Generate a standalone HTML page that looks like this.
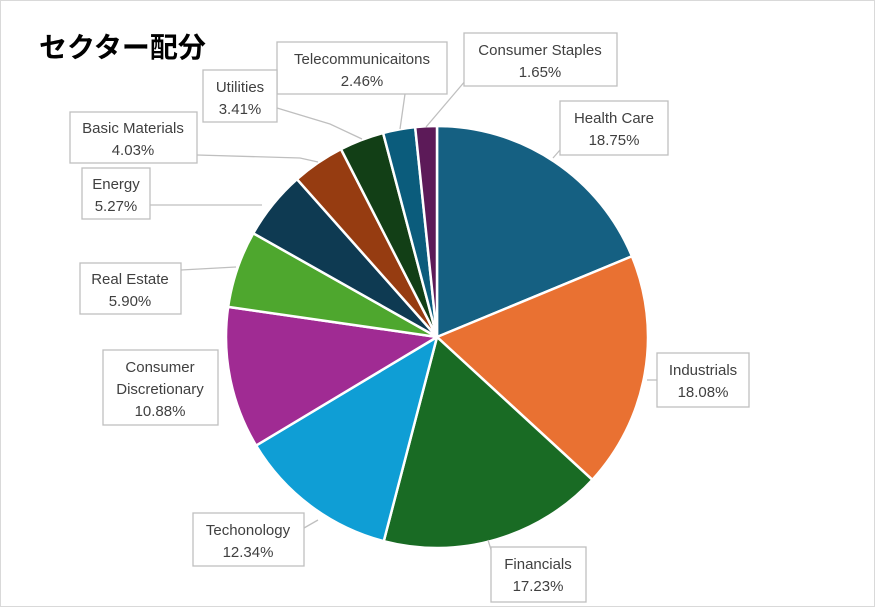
<!DOCTYPE html>
<html><head><meta charset="utf-8"><style>
html,body{margin:0;padding:0;background:#fff;}
svg{display:block;}
text{font-family:"Liberation Sans","Noto Sans CJK JP",sans-serif;fill:#404040;font-size:15px;}
</style></head><body>
<svg id="s" width="875" height="607" viewBox="0 0 875 607" xmlns="http://www.w3.org/2000/svg">
<rect x="0.5" y="0.5" width="874" height="606" fill="#fff" stroke="#d9d9d9"/>
<text x="39" y="57" style="font-size:28px;font-weight:bold;fill:#000">セクター配分</text>
<g id="pie"></g>
<g stroke="#bfbfbf" stroke-width="1.3" fill="none">
<polyline points="466,80 426,127"/>
<polyline points="405,94 400,129"/>
<polyline points="277,108 330,124 362,139"/>
<polyline points="197,155 300,158 318,162"/>
<polyline points="150,205 262,205"/>
<polyline points="181,270 236,267"/>
<polyline points="560,150 553,158"/>
<polyline points="657,380 647,380"/>
<polyline points="493,556 488,540"/>
<polyline points="304,528 318,520"/>
</g>
<g fill="#fff" stroke="#bfbfbf" stroke-width="1.3">
<rect x="277" y="42" width="170" height="52"/>
<rect x="464" y="33" width="153" height="53"/>
<rect x="560" y="101" width="108" height="54"/>
<rect x="203" y="70" width="74" height="52"/>
<rect x="70" y="112" width="127" height="51"/>
<rect x="82" y="168" width="68" height="51"/>
<rect x="80" y="263" width="101" height="51"/>
<rect x="103" y="350" width="115" height="75"/>
<rect x="657" y="353" width="92" height="54"/>
<rect x="193" y="513" width="111" height="53"/>
<rect x="491" y="547" width="95" height="55"/>
</g>
<g text-anchor="middle">
<text x="362" y="64">Telecommunicaitons</text><text x="362" y="86">2.46%</text>
<text x="540" y="55">Consumer Staples</text><text x="540" y="77">1.65%</text>
<text x="614" y="123">Health Care</text><text x="614" y="145">18.75%</text>
<text x="240" y="92">Utilities</text><text x="240" y="114">3.41%</text>
<text x="133" y="133">Basic Materials</text><text x="133" y="155">4.03%</text>
<text x="116" y="189">Energy</text><text x="116" y="211">5.27%</text>
<text x="130" y="284">Real Estate</text><text x="130" y="306">5.90%</text>
<text x="160" y="372">Consumer</text><text x="160" y="394">Discretionary</text><text x="160" y="416">10.88%</text>
<text x="703" y="375">Industrials</text><text x="703" y="397">18.08%</text>
<text x="248" y="535">Techonology</text><text x="248" y="557">12.34%</text>
<text x="538" y="569">Financials</text><text x="538" y="591">17.23%</text>
</g>
</svg>
<script>
var d=[[18.75,"#156082"],[18.08,"#e97132"],[17.23,"#196b24"],[12.34,"#0f9ed5"],[10.88,"#a02b93"],[5.90,"#4ea72e"],[5.27,"#0e3a52"],[4.03,"#963c11"],[3.41,"#123f16"],[2.46,"#0b5c7c"],[1.65,"#5c1a58"]];
var tot=0;d.forEach(function(x){tot+=x[0];});
var cx=437,cy=337,r=211,a=-Math.PI/2,h="";
d.forEach(function(x){var b=a+x[0]/tot*2*Math.PI;
var x1=cx+r*Math.cos(a),y1=cy+r*Math.sin(a),x2=cx+r*Math.cos(b),y2=cy+r*Math.sin(b);
h+='<path d="M'+cx+','+cy+' L'+x1.toFixed(2)+','+y1.toFixed(2)+' A'+r+','+r+' 0 '+((b-a)>Math.PI?1:0)+' 1 '+x2.toFixed(2)+','+y2.toFixed(2)+' Z" fill="'+x[1]+'" stroke="#fff" stroke-width="2.5" stroke-linejoin="round"/>';a=b;});
document.getElementById("pie").innerHTML=h;
</script>
</body></html>
